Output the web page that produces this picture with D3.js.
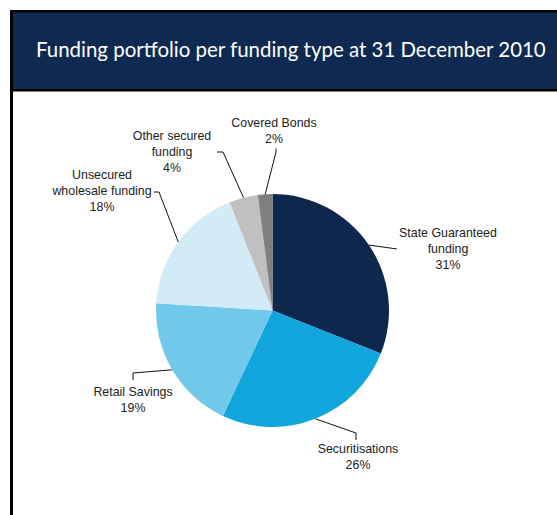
<!DOCTYPE html>
<html>
<head>
<meta charset="utf-8">
<script src="https://cdn.jsdelivr.net/npm/d3@7"></script>
<style>
  html, body { margin: 0; padding: 0; background: #ffffff; }
  svg { display: block; }
</style>
</head>
<body>
<svg id="chart" width="557" height="515"></svg>
<script>
// Funding mix at year end 2010, in per cent of the total portfolio
const categories = [
  "State Guaranteed funding",
  "Securitisations",
  "Retail Savings",
  "Unsecured wholesale funding",
  "Other secured funding",
  "Covered Bonds"
];
const shares = [31, 26, 19, 18, 4, 2];
// How each category name is broken over lines in its label
const labelLines = [
  ["State Guaranteed", "funding"],
  ["Securitisations"],
  ["Retail Savings"],
  ["Unsecured", "wholesale funding"],
  ["Other secured", "funding"],
  ["Covered Bonds"]
];
const sliceColors = ["#0e274c", "#13a6dd", "#70c9eb", "#d2ecf7", "#c0c0c0", "#7f7f7f"];
const titleText = "Funding portfolio per funding type at 31 December 2010";

const W = 557, H = 515;
const svg = d3.select("#chart");

// Frame: banner with title, black rules along the top, under the banner and at the left
const navy = "#0f2a50";
svg.append("rect").attr("x", 10).attr("y", 10).attr("width", W - 10).attr("height", 81).attr("fill", navy);
svg.append("rect").attr("x", 10).attr("y", 10).attr("width", W - 10).attr("height", 2.5).attr("fill", "#000");
svg.append("rect").attr("x", 10).attr("y", 89).attr("width", W - 10).attr("height", 2.5).attr("fill", "#000");
svg.append("rect").attr("x", 10).attr("y", 10).attr("width", 3).attr("height", H - 10).attr("fill", "#000");

const title = svg.append("text")
  .attr("x", 36)
  .attr("y", 57)
  .attr("fill", "#ffffff")
  .style("font-family", "Lato, 'Open Sans', sans-serif")
  .style("font-size", "21px")
  .text(titleText);
// Size the title so that it spans the banner
const tw = title.node().getComputedTextLength();
title.style("font-size", (21 * 510 / tw).toFixed(2) + "px");

// Pie
const cx = 272.5, cy = 310.5, R = 116.5;
const data = categories.map((c, i) => ({ name: c, value: shares[i], lines: labelLines[i], color: sliceColors[i] }));

const pie = d3.pie().value(d => d.value).sort(null).startAngle(0).endAngle(2 * Math.PI);
const arcs = pie(data);
const arc = d3.arc().innerRadius(0).outerRadius(R);

const g = svg.append("g").attr("transform", `translate(${cx},${cy})`);
g.selectAll("path.slice")
  .data(arcs)
  .join("path")
  .attr("class", "slice")
  .attr("d", arc)
  .attr("fill", d => d.data.color);

// Label layout: leader end points and text anchors, relative to the pie centre
const labelLayout = [
  { path: [[124.5, -61.5]], text: [175.5, -77.5] },
  { path: [[83.5, 122.5], [83.5, 129.5]], text: [85.5, 138.5] },
  { path: [[-139.5, 62.5], [-139.5, 69.5]], text: [-139.5, 81.5] },
  { path: [[-113.5, -118.5], [-118.5, -118.5]], text: [-170.5, -135.5] },
  { path: [[-49.5, -158.5], [-55.5, -158.5]], text: [-100.5, -174.5] },
  { path: [[3.5, -158.5], [3.5, -162]], text: [1.5, -187.5] }
];

const lineGen = d3.line();
const lineH = 16;

arcs.forEach((a, i) => {
  const mid = (a.startAngle + a.endAngle) / 2;
  const start = [R * Math.sin(mid), -R * Math.cos(mid)];
  const L = labelLayout[i];
  g.append("path")
    .attr("d", lineGen([start, ...L.path]))
    .attr("fill", "none")
    .attr("stroke", "#111")
    .attr("stroke-width", 1);

  const rows = [...a.data.lines, a.data.value + "%"];
  const t = g.append("text")
    .attr("text-anchor", "middle")
    .attr("fill", "#222")
    .style("font-family", "'Liberation Sans', Arial, sans-serif")
    .style("font-size", "12.4px");
  rows.forEach((r, k) => {
    t.append("tspan")
      .attr("x", L.text[0])
      .attr("y", L.text[1] + k * lineH)
      .attr("dy", "0.35em")
      .text(r);
  });
});
</script>
</body>
</html>
